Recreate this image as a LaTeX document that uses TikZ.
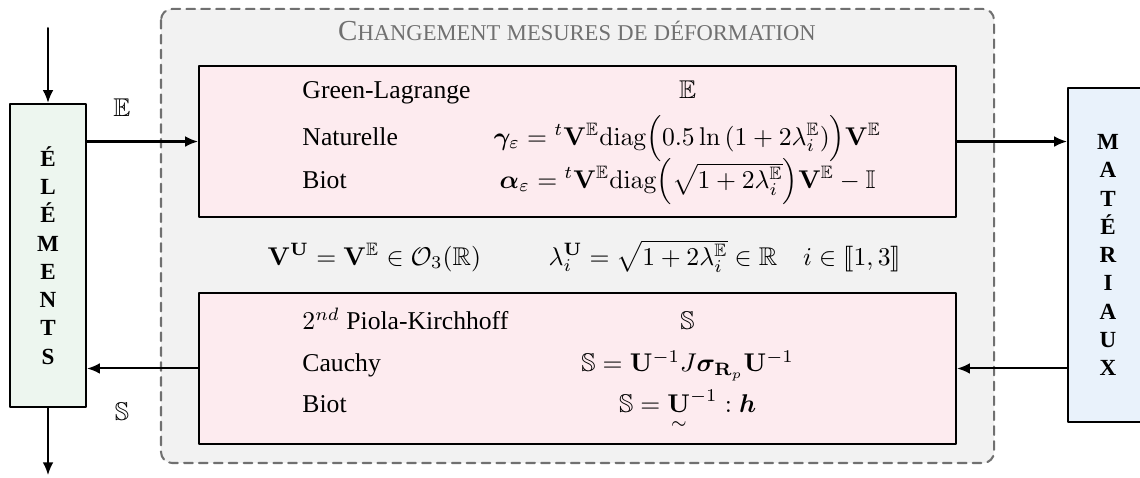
\documentclass[tikz,border=0pt]{standalone}
\usepackage{amsmath,amssymb,bm,stmaryrd}
\usepackage[no-math]{fontspec}
\setmainfont{Liberation Serif}
\usepackage{xcolor}
\usetikzlibrary{arrows.meta,positioning,calc}
\definecolor{mypink}{HTML}{FDEBEF}
\definecolor{mygreen}{HTML}{EDF6EF}
\definecolor{myblue}{HTML}{E9F2FB}
\definecolor{mybg}{HTML}{F2F2F2}
\definecolor{mydash}{HTML}{707070}

% fake small caps (Liberation Serif has none)
\newcommand{\fsc}[2]{{\fontsize{11.3}{13}\selectfont #1}{\fontsize{8.8}{10}\selectfont #2}}

\begin{document}
\begin{tikzpicture}[
			line cap=round,
			line join=round,
			arr/.style={thick,-{Latex[length=5pt,width=4.2pt]}},
			sidebox/.style={draw,thick,align=center,font=\small\bfseries,inner sep=0pt},
			formbox/.style={draw,thick,fill=mypink,minimum width=10.371cm,minimum height=2.069cm},
			rowtxt/.style={anchor=base west,inner sep=0pt},
			rowmath/.style={anchor=base,inner sep=0pt}
			]
			
			\useasboundingbox (0,0) rectangle (15.618,-6.535);
			
			% Column positions
			\def\colL{4.137}
			\def\colR{9.42}
			
			%------------------------------
			% Background frame
			%------------------------------
			\draw[mydash, line width=.8pt, dash pattern=on 3.4pt off 2.4pt, fill=mybg,
				rounded corners=.15cm] (2.206,-.123) rectangle (13.618,-6.343);
			\node[text=mydash] (title) at (7.905,-.42)
				{\fsc{C}{HANGEMENT} \fsc{}{MESURES} \fsc{}{DE} \fsc{}{DÉFORMATION}};
			
			%------------------------------
			% Boxes
			%------------------------------
			\node[sidebox, fill=mygreen, minimum width=1.041cm, minimum height=4.151cm]
				(elem) at (.658,-3.5)
				{\baselineskip=11.4pt É\\L\\É\\M\\E\\N\\T\\S};
			\node[sidebox, fill=myblue, minimum width=1.096cm, minimum height=4.576cm]
				(mat) at (15.18,-3.494)
				{\baselineskip=10.8pt M\\A\\T\\É\\R\\I\\A\\U\\X};
			
			\node[formbox] (strain) at (7.912,-1.939) {};
			\node[formbox] (stress) at (7.912,-5.048) {};
			
			%------------------------------
			% Strain measures
			%------------------------------
			\node[rowtxt] (gl) at (\colL,-1.356) {Green-Lagrange};
			\node[rowtxt] (nat) at (\colL,-1.987) {Naturelle};
			\node[rowtxt] (biotE) at (\colL,-2.576) {Biot};
			\node[rowmath] (glf) at (\colR,-1.356) {$\mathbb{E}$};
			\node[rowmath] (natf) at (\colR,-1.987)
				{$\bm{\gamma}_{\varepsilon}={}^{t}\mathbf{V}^{\mathbb{E}}\mathrm{diag}\Big(0.5\ln\,(1+2\lambda_i^{\mathbb{E}})\Big)\mathbf{V}^{\mathbb{E}}$};
			\node[rowmath] (biotEf) at (\colR,-2.576)
				{$\bm{\alpha}_{\varepsilon}={}^{t}\mathbf{V}^{\mathbb{E}}\mathrm{diag}\Big(\sqrt{1+2\lambda_i^{\mathbb{E}}}\Big)\mathbf{V}^{\mathbb{E}}-\mathbb{I}$};
			
			% Eigen decomposition
			\node[rowtxt] (eigV) at (3.658,-3.631)
				{$\mathbf{V}^{\mathbf{U}}=\mathbf{V}^{\mathbb{E}}\in\mathcal{O}_3(\mathbb{R})$};
			\node[rowtxt] (eigL) at (7.508,-3.631)
				{$\lambda_i^{\mathbf{U}}=\sqrt{1+2\lambda_i^{\mathbb{E}}}\in\mathbb{R}\quad i\in\llbracket 1,3\rrbracket$};
			
			%------------------------------
			% Stress measures
			%------------------------------
			\node[rowtxt] (pk) at (\colL,-4.521) {$2^{nd}$ Piola-Kirchhoff};
			\node[rowtxt] (cau) at (\colL,-5.096) {Cauchy};
			\node[rowtxt] (biotS) at (\colL,-5.658) {Biot};
			\node[rowmath] (pkf) at (\colR,-4.521) {$\mathbb{S}$};
			\node[rowmath] (cauf) at (\colR,-5.096)
				{$\mathbb{S}=\mathbf{U}^{-1}J\bm{\sigma}_{\mathbf{R}_p}\mathbf{U}^{-1}$};
			\node[rowmath] (biotSf) at (\colR,-5.658)
				{$\mathbb{S}=\underset{\sim}{\mathbf{U}}^{-1}:\bm{h}$};
			
			%------------------------------
			% Connectors
			%------------------------------
			\coordinate (in) at (.658,-.384);
			\coordinate (out) at (.658,-6.51);
			\draw[arr] (in) -- (elem.north);
			\draw[arr] (elem.south) -- (out);
			
			\draw[arr] (elem.east |- strain.west) -- (strain.west);
			\draw[arr] (strain.east) -- (strain.east -| mat.west);
			\draw[arr] (stress.east -| mat.west) -- (stress.east);
			\draw[arr] (stress.west) -- (stress.west -| elem.east);
			
			\node (lblE) at (1.671,-1.48) {$\mathbb{E}$};
			\node (lblS) at (1.671,-5.644) {$\mathbb{S}$};
		\end{tikzpicture}
\end{document}
